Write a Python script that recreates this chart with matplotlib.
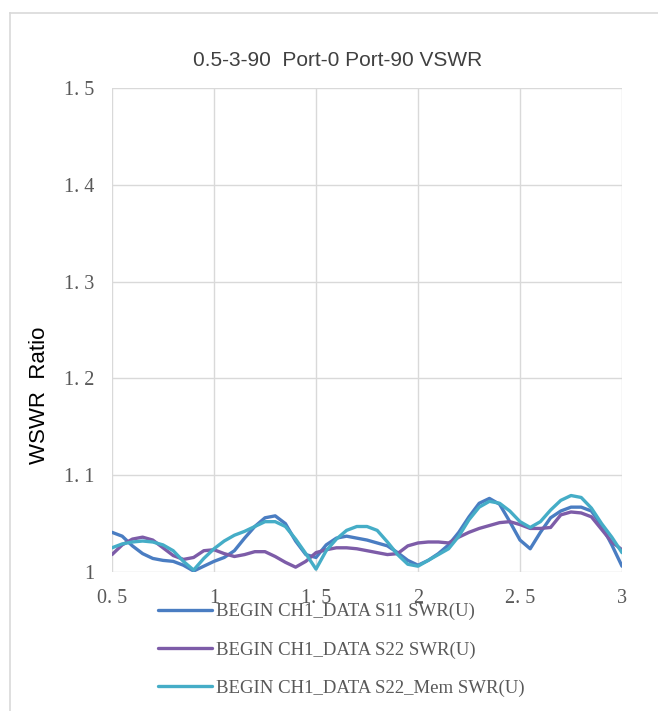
import matplotlib
matplotlib.use("Agg")
import matplotlib.pyplot as plt
from matplotlib.lines import Line2D

# frequency axis (GHz), 0.05 step
freq = [0.5, 0.55, 0.6, 0.65, 0.7, 0.75, 0.8, 0.85, 0.9, 0.95,
        1.0, 1.05, 1.1, 1.15, 1.2, 1.25, 1.3, 1.35, 1.4, 1.45,
        1.5, 1.55, 1.6, 1.65, 1.7, 1.75, 1.8, 1.85, 1.9, 1.95,
        2.0, 2.05, 2.1, 2.15, 2.2, 2.25, 2.3, 2.35, 2.4, 2.45,
        2.5, 2.55, 2.6, 2.65, 2.7, 2.75, 2.8, 2.85, 2.9, 2.95, 3.0]

s11 = [1.041, 1.037, 1.027, 1.019, 1.014, 1.012, 1.011, 1.007, 1.001, 1.006,
       1.011, 1.015, 1.022, 1.035, 1.047, 1.056, 1.058, 1.050, 1.032, 1.018,
       1.015, 1.028, 1.035, 1.037, 1.035, 1.033, 1.030, 1.027, 1.020, 1.012,
       1.007, 1.012, 1.019, 1.028, 1.041, 1.057, 1.071, 1.076, 1.070, 1.052,
       1.033, 1.024, 1.041, 1.056, 1.063, 1.067, 1.067, 1.063, 1.048, 1.028,
       1.006]

s22 = [1.018, 1.028, 1.034, 1.036, 1.033, 1.025, 1.017, 1.013, 1.015, 1.022,
       1.023, 1.019, 1.016, 1.018, 1.021, 1.021, 1.016, 1.010, 1.005, 1.011,
       1.020, 1.023, 1.025, 1.025, 1.024, 1.022, 1.020, 1.018, 1.019, 1.027,
       1.030, 1.031, 1.031, 1.030, 1.036, 1.041, 1.045, 1.048, 1.051, 1.052,
       1.049, 1.045, 1.045, 1.046, 1.059, 1.062, 1.061, 1.057, 1.044, 1.031,
       1.023]

s22_mem = [1.025, 1.029, 1.031, 1.032, 1.031, 1.028, 1.022, 1.011, 1.002, 1.014,
           1.024, 1.032, 1.038, 1.042, 1.047, 1.052, 1.052, 1.047, 1.034, 1.019,
           1.003, 1.022, 1.034, 1.043, 1.047, 1.047, 1.043, 1.031, 1.018, 1.008,
           1.006, 1.012, 1.018, 1.024, 1.037, 1.054, 1.067, 1.073, 1.071, 1.063,
           1.052, 1.046, 1.052, 1.064, 1.074, 1.079, 1.077, 1.066, 1.050, 1.036,
           1.020]

labels = ["BEGIN CH1_DATA S11 SWR(U)",
          "BEGIN CH1_DATA S22 SWR(U)",
          "BEGIN CH1_DATA S22_Mem SWR(U)"]
colors = ["#4A7DC2", "#7D5CA8", "#45ADC7"]

xticks = [0.5, 1, 1.5, 2, 2.5, 3]
xticklabels = ["0. 5", "1", "1. 5", "2", "2. 5", "3"]
yticks = [1.0, 1.1, 1.2, 1.3, 1.4, 1.5]
yticklabels = ["1", "1. 1", "1. 2", "1. 3", "1. 4", "1. 5"]

W, H = 658, 711
fig = plt.figure(figsize=(W / 100, H / 100), dpi=100)
ax = fig.add_axes([112 / W, 1 - 572 / H, (622 - 112) / W, (572 - 88) / H])

for ys, c, lab in zip([s11, s22, s22_mem], colors, labels):
    ax.plot(freq, ys, color=c, lw=2.4, label=lab,
            solid_joinstyle="round", solid_capstyle="round")

ax.set_xlim(0.5, 3)
ax.set_ylim(1.0, 1.5)
ax.set_xticks(xticks)
ax.set_xticklabels(xticklabels)
ax.set_yticks(yticks)
ax.set_yticklabels(yticklabels)
ax.grid(True, color="#D9D9D9", lw=1.0)
ax.set_axisbelow(True)
for s in ax.spines.values():
    s.set_visible(False)
ax.tick_params(length=0, labelsize=14.5, colors="#595959")
ax.tick_params(axis="y", pad=13)
ax.tick_params(axis="x", pad=12)
for t in ax.get_xticklabels() + ax.get_yticklabels():
    t.set_family("Liberation Serif")

ax.set_ylabel("WSWR  Ratio", fontsize=16, family="Liberation Sans")
ax.yaxis.set_label_coords((50 - 112) / (622 - 112), (572 - 395) / (572 - 88))

fig.text(338 / W, 1 - 60 / H, "0.5-3-90  Port-0 Port-90 VSWR", ha="center", va="center",
         fontsize=15, family="Liberation Sans", color="#404040")

leg = fig.legend(loc="upper left", bbox_to_anchor=(158 / W, 1 - 603 / H),
                 borderaxespad=0, borderpad=0, frameon=False,
                 handlelength=2.9, handletextpad=0.2, labelspacing=1.12,
                 prop={"family": "Liberation Serif", "size": 13.5})
for t in leg.get_texts():
    t.set_color("#595959")

# chart border (left and top edges visible)
fig.add_artist(Line2D([9.5 / W, 9.5 / W], [0, 1 - 12.5 / H], transform=fig.transFigure,
                      color="#D9D9D9", lw=1.2))
fig.add_artist(Line2D([9.5 / W, 1], [1 - 12.5 / H, 1 - 12.5 / H], transform=fig.transFigure,
                      color="#D9D9D9", lw=1.2))

fig.savefig("out.png", dpi=100)
